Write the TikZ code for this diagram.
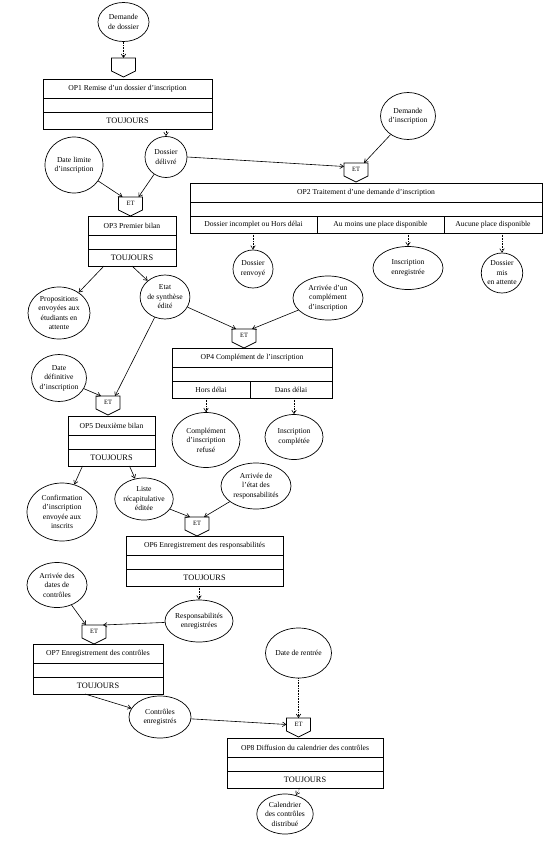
\documentclass[tikz,border=0pt]{standalone}
\usepackage{fontspec}
\setmainfont{Liberation Serif}
\usetikzlibrary{shapes.geometric}
\usetikzlibrary{positioning}
\usetikzlibrary{arrows.meta}

\begin{document}
\begin{tikzpicture}[x=1pt,y=-1pt,
    font=\fontsize{7.6}{9.5}\selectfont,
    evenement/.style={ellipse, draw, line width=0.7pt, inner sep=0pt, align=center},
    titre/.style={rectangle, draw, line width=0.7pt, minimum height=19pt, inner sep=0pt, outer sep=0pt},
    vide/.style={rectangle, draw, line width=0.7pt, minimum height=14pt, inner sep=0pt, outer sep=0pt},
    regle/.style={rectangle, draw, line width=0.7pt, minimum height=17pt, inner sep=0pt, outer sep=0pt},
    toujours/.style={regle, font=\fontsize{8.3}{9}\selectfont},
    synchro/.style={rectangle, minimum width=24pt, minimum height=13pt, inner sep=0pt, outer sep=0pt, font=\fontsize{6.5}{7}\selectfont},
    fleche/.style={-{Straight Barb[length=3.5pt,width=4.5pt]}, line width=0.6pt},
    pointille/.style={densely dotted}]
    \useasboundingbox (0,0) rectangle (557,848);

    % evenements
    \node[evenement, minimum width=51pt, minimum height=39pt] (demdossier) at (123.5,22) {Demande\\de dossier};
    \node[evenement, minimum width=58pt, minimum height=56pt] (datelimite) at (74,165) {Date limite\\d'inscription};
    \node[evenement, minimum width=42pt, minimum height=41pt] (delivre) at (166,157) {Dossier\\délivré};
    \node[evenement, minimum width=50pt, minimum height=47pt] (deminsc) at (408,116) {Demande\\d'inscription};
    \node[evenement, minimum width=40pt, minimum height=38pt] (renvoye) at (253,269) {Dossier\\renvoyé};
    \node[evenement, minimum width=70pt, minimum height=43pt] (enreg) at (408,268) {Inscription\\enregistrée};
    \node[evenement, minimum width=41pt, minimum height=40pt] (attente) at (502,273) {Dossier\\mis\\en attente};
    \node[evenement, minimum width=62pt, minimum height=52pt] (propositions) at (59,313) {Propositions\\envoyées aux\\étudiants en\\attente};
    \node[evenement, minimum width=48pt, minimum height=44pt] (etat) at (165,297) {Etat\\de synthèse\\édité};
    \node[evenement, minimum width=70pt, minimum height=44pt] (arrcompl) at (328,298) {Arrivée d'un\\complément\\d'inscription};
    \node[evenement, minimum width=52pt, minimum height=47pt] (datedef) at (59,378) {Date\\définitive\\d'inscription};
    \node[evenement, minimum width=68pt, minimum height=55pt] (refuse) at (206,440) {Complément\\d'inscription\\refusé};
    \node[evenement, minimum width=58pt, minimum height=45pt] (completee) at (294,437) {Inscription\\complétée};
    \node[evenement, minimum width=70pt, minimum height=58pt] (confirmation) at (62,512) {Confirmation\\d'inscription\\envoyée aux\\inscrits};
    \node[evenement, minimum width=52pt, minimum height=42pt] (liste) at (144,499) {Liste\\récapitulative\\éditée};
    \node[evenement, minimum width=70pt, minimum height=46pt] (arretat) at (256,486) {Arrivée de\\l'état des\\responsabilités};
    \node[evenement, minimum width=60pt, minimum height=45pt] (arrdates) at (57,585) {Arrivée des\\dates de\\contrôles};
    \node[evenement, minimum width=68pt, minimum height=42pt] (responsab) at (199,621) {Responsabilités\\enregistrées};
    \node[evenement, minimum width=62pt, minimum height=42pt] (controles) at (160,717) {Contrôles\\enregistrés};
    \node[evenement, minimum width=66pt, minimum height=50pt] (rentree) at (298.5,653) {Date de rentrée};
    \node[evenement, minimum width=46pt, minimum height=40pt] (calendrier) at (285,814) {Calendrier\\des contrôles\\distribué};

    % synchronisations
    \node[synchro] (et1) at (123.5,64.5) {};
    \node[synchro] (et2) at (356,169.5) {ET};
    \node[synchro] (et3) at (130.5,203.5) {ET};
    \node[synchro] (et4) at (244,335.5) {ET};
    \node[synchro] (et5) at (108,402.5) {ET};
    \node[synchro] (et6) at (197,523.5) {ET};
    \node[synchro] (et7) at (94,631.5) {ET};
    \node[synchro] (et8) at (298.5,724.5) {ET};
    \foreach \s in {et1,et2,et3,et4,et5,et6,et7,et8}
        \draw[line width=0.7pt] (\s.north west) -- (\s.north east) -- (\s.south east)
            -- ([yshift=-6pt]\s.south) -- (\s.south west) -- cycle;

    % operations
    \node[titre, minimum width=169pt] (op1) at (127.5,88.5) {OP1 Remise d'un dossier d'inscription};
    \node[vide, minimum width=169pt, below=0pt of op1] (op1v) {};
    \node[toujours, minimum width=169pt, below=0pt of op1v] (op1r) {TOUJOURS};

    \node[titre, minimum width=352pt] (op2) at (366,192.5) {OP2 Traitement d'une demande d'inscription};
    \node[vide, minimum width=352pt, below=0pt of op2] (op2v) {};
    \node[regle, minimum width=127pt, anchor=north west] (op2a) at (op2v.south west) {Dossier incomplet ou Hors délai};
    \node[regle, minimum width=127pt, right=0pt of op2a] (op2b) {Au moins une place disponible};
    \node[regle, minimum width=98pt, right=0pt of op2b] (op2c) {Aucune place disponible};

    \node[titre, minimum width=88pt] (op3) at (132,225.5) {OP3 Premier bilan};
    \node[vide, minimum width=88pt, below=0pt of op3] (op3v) {};
    \node[toujours, minimum width=88pt, below=0pt of op3v] (op3r) {TOUJOURS};

    \node[titre, minimum width=160pt] (op4) at (252,357.5) {OP4 Complément de l'inscription};
    \node[vide, minimum width=160pt, below=0pt of op4] (op4v) {};
    \node[regle, minimum width=78pt, anchor=north west] (op4a) at (op4v.south west) {Hors délai};
    \node[regle, minimum width=82pt, right=0pt of op4a] (op4b) {Dans délai};

    \node[titre, minimum width=87pt] (op5) at (111.5,425.5) {OP5 Deuxième bilan};
    \node[vide, minimum width=87pt, below=0pt of op5] (op5v) {};
    \node[toujours, minimum width=87pt, below=0pt of op5v] (op5r) {TOUJOURS};

    \node[titre, minimum width=157pt] (op6) at (204.5,545.5) {OP6 Enregistrement des responsabilités};
    \node[vide, minimum width=157pt, below=0pt of op6] (op6v) {};
    \node[toujours, minimum width=157pt, below=0pt of op6v] (op6r) {TOUJOURS};

    \node[titre, minimum width=130pt] (op7) at (98,653.5) {OP7 Enregistrement des contrôles};
    \node[vide, minimum width=130pt, below=0pt of op7] (op7v) {};
    \node[toujours, minimum width=130pt, below=0pt of op7v] (op7r) {TOUJOURS};

    \node[titre, minimum width=156pt] (op8) at (305,747.5) {OP8 Diffusion du calendrier des contrôles};
    \node[vide, minimum width=156pt, below=0pt of op8] (op8v) {};
    \node[toujours, minimum width=156pt, below=0pt of op8v] (op8r) {TOUJOURS};

    % flux
    \draw[fleche, pointille] (demdossier) -- (et1);
    \draw[fleche, pointille] (op1r.south -| delivre) -- (delivre);
    \draw[fleche] (delivre.east) -- ([yshift=3pt]et2.west);
    \draw[fleche] (deminsc) -- ([xshift=8pt]et2.north);
    \draw[fleche] (datelimite) -- ([xshift=-8pt]et3.north);
    \draw[fleche] (delivre) -- ([xshift=8pt]et3.north);

    \draw[fleche, pointille] (op2a.south -| renvoye) -- (renvoye);
    \draw[fleche, pointille] (op2b.south -| enreg) -- (enreg);
    \draw[fleche, pointille] (op2c.south -| attente) -- (attente);

    \draw[fleche] ([xshift=-28pt]op3r.south) -- (propositions);
    \draw[fleche] (op3r.south) -- (etat);
    \draw[fleche] (etat) -- ([xshift=-8pt]et4.north);
    \draw[fleche] (arrcompl) -- ([xshift=8pt]et4.north);

    \draw[fleche, pointille] (op4a.south -| refuse) -- (refuse);
    \draw[fleche, pointille] (op4b.south -| completee) -- (completee);

    \draw[fleche] (datedef) -- ([xshift=-7pt]et5.north);
    \draw[fleche] (etat) -- ([xshift=7pt]et5.north);

    \draw[fleche] ([xshift=-29pt]op5r.south) -- (confirmation);
    \draw[fleche] ([xshift=18pt]op5r.south) -- (liste);
    \draw[fleche] (liste) -- ([xshift=-7pt]et6.north);
    \draw[fleche] (arretat) -- ([xshift=7pt]et6.north);

    \draw[fleche, pointille] (op6r.south -| responsab) -- (responsab);
    \draw[fleche] (arrdates) -- ([xshift=-8pt]et7.north);
    \draw[fleche] (responsab) -- ([xshift=9pt]et7.north);

    \draw[fleche] ([xshift=-13pt]op7r.south) -- (controles);
    \draw[fleche] (controles) -- (et8.west);
    \draw[fleche, pointille] (rentree) -- (et8);
    \draw[fleche, pointille] ([xshift=-5pt]op8r.south) -- (calendrier);
\end{tikzpicture}
\end{document}
